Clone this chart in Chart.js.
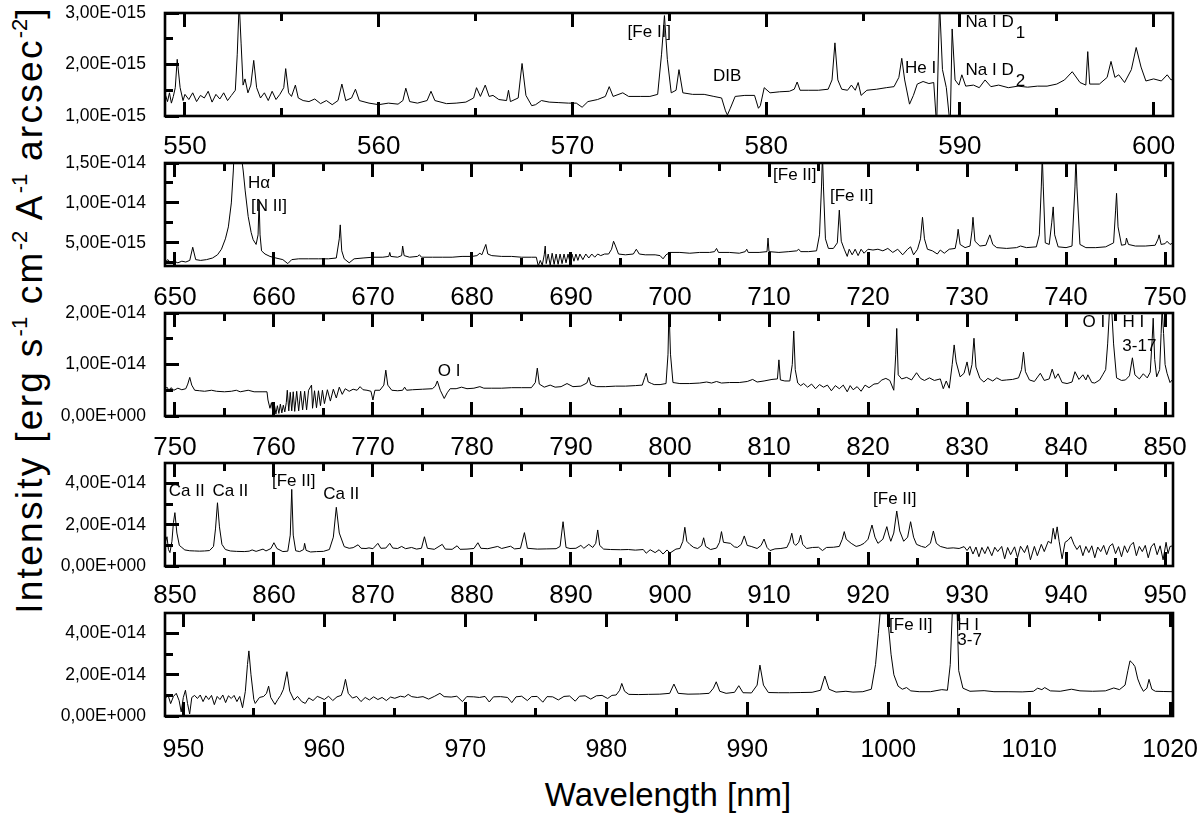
<!DOCTYPE html>
<html>
<head>
<meta charset="utf-8">
<script src="https://cdn.jsdelivr.net/npm/chart.js@4.4.1/dist/chart.umd.min.js"></script>
<style>
  body { margin: 0; background: #fff; width: 1200px; height: 814px; position: relative; overflow: hidden;
         font-family: "Liberation Sans", Arial, sans-serif; color: #000; }
  .panel { position: absolute; left: 0; width: 1200px; height: 160px; }
  #ytitle { position: absolute; left: 30px; top: 310px; white-space: nowrap; font-size: 37px; letter-spacing: 2.3px;
            transform: translate(-50%, -50%) rotate(-90deg); }
  #ytitle sup { font-size: 22px; vertical-align: 15px; line-height: 0; letter-spacing: 0; }
  #xtitle { position: absolute; left: 668px; top: 795px; white-space: nowrap; font-size: 33px;
            transform: translate(-50%, -50%); }
</style>
</head>
<body>
<div id="ytitle">Intensity [erg s<sup>-1</sup> cm<sup>-2</sup> A<sup>-1</sup> arcsec<sup>-2</sup>]</div>
<div id="xtitle">Wavelength [nm]</div>
<script>
// Flux values are in units of 1E-015 erg s-1 cm-2 A-1 arcsec-2, wavelengths in nm

// ---- panel 1: 549 - 601 nm ----
const p1Wave = [
  549.0, 549.1, 549.2, 549.3, 549.4, 549.5, 549.6, 549.75, 549.9, 550.0,
  550.2, 550.4, 550.6, 550.8, 551.0, 551.2, 551.4, 551.6, 551.8, 552.0,
  552.2, 552.4, 552.6, 552.7, 552.8, 552.9, 553.0, 553.1, 553.25, 553.4,
  553.55, 553.7, 553.9, 554.1, 554.3, 554.5, 554.7, 554.9, 555.1, 555.2,
  555.35, 555.5, 555.7, 555.85, 556.1, 556.4, 556.7, 557.0, 557.3, 557.6,
  557.9, 558.1, 558.3, 558.6, 558.8, 559.0, 559.5, 560.0, 560.5, 561.0,
  561.25, 561.4, 561.6, 562.0, 562.5, 562.7, 562.9, 563.5, 564.0, 564.5,
  564.9, 565.05, 565.25, 565.5, 565.7, 565.9, 566.2, 566.6, 566.7, 566.8,
  567.2, 567.4, 567.6, 567.9, 568.1, 568.4, 568.8, 569.3, 569.8, 570.2,
  570.5, 570.8, 571.3, 571.7, 571.9, 572.1, 572.6, 572.9, 573.5, 574.0,
  574.4, 574.6, 574.75, 574.9, 575.1, 575.35, 575.5, 575.7, 576.2, 576.8,
  577.3, 577.7, 577.9, 578.0, 578.15, 578.4, 578.9, 579.4, 579.6, 579.7,
  579.9, 580.2, 580.7, 581.2, 581.45, 581.6, 581.75, 582.2, 582.7, 583.2,
  583.4, 583.55, 583.7, 583.9, 584.2, 584.4, 584.6, 584.75, 584.9, 585.2,
  585.7, 586.2, 586.6, 586.85, 587.0, 587.15, 587.4, 587.6, 587.8, 588.1,
  588.4, 588.65, 588.8, 588.95, 589.1, 589.3, 589.5, 589.6, 589.75, 589.95,
  590.1, 590.3, 590.7, 591.0, 591.3, 591.6, 592.0, 592.5, 593.0, 593.5,
  594.0, 594.5, 595.0, 595.4, 595.8, 596.2, 596.5, 596.6, 596.7, 597.2,
  597.6, 597.8, 598.0, 598.2, 598.5, 598.85, 599.1, 599.35, 599.6, 600.0,
  600.4, 600.7, 600.9, 601.0
];
const p1Flux = [
  1.40, 1.28, 1.45, 1.25, 1.38, 1.55, 2.10, 1.55, 1.30, 1.42,
  1.32, 1.45, 1.28, 1.40, 1.35, 1.48, 1.27, 1.42, 1.33, 1.45,
  1.30, 1.40, 1.50, 2.20, 3.20, 2.40, 1.60, 1.72, 1.45, 1.60,
  2.08, 1.55, 1.35, 1.45, 1.30, 1.48, 1.32, 1.42, 1.55, 1.92,
  1.45, 1.38, 1.60, 1.35, 1.30, 1.28, 1.33, 1.24, 1.30, 1.22,
  1.30, 1.62, 1.30, 1.35, 1.52, 1.30, 1.25, 1.22, 1.25, 1.23,
  1.30, 1.54, 1.28, 1.25, 1.30, 1.48, 1.30, 1.24, 1.25, 1.27,
  1.35, 1.55, 1.38, 1.60, 1.38, 1.40, 1.32, 1.30, 1.50, 1.28,
  1.35, 2.02, 1.40, 1.20, 1.22, 1.30, 1.27, 1.26, 1.25, 1.25,
  1.17, 1.28, 1.32, 1.38, 1.57, 1.38, 1.45, 1.38, 1.38, 1.38,
  1.42, 2.20, 2.95, 2.10, 1.45, 1.50, 1.90, 1.45, 1.42, 1.42,
  1.38, 1.35, 1.10, 1.02, 1.15, 1.38, 1.40, 1.40, 1.15, 1.20,
  1.55, 1.45, 1.47, 1.48, 1.52, 1.66, 1.50, 1.50, 1.50, 1.52,
  1.70, 2.42, 1.70, 1.52, 1.50, 1.60, 1.50, 1.65, 1.40, 1.50,
  1.52, 1.55, 1.57, 1.75, 2.12, 1.70, 1.23, 1.40, 1.62, 1.67,
  1.63, 1.65, 0.80, 3.20, 1.90, 1.55, 0.80, 2.69, 1.70, 1.60,
  1.80, 1.58, 1.60, 1.55, 1.70, 1.57, 1.60, 1.55, 1.58, 1.56,
  1.58, 1.58, 1.62, 1.70, 1.86, 1.65, 1.60, 2.25, 1.62, 1.62,
  1.75, 2.06, 1.75, 1.80, 1.65, 1.90, 2.33, 1.95, 1.68, 1.72,
  1.68, 1.80, 1.70, 1.72
];
const p1XTicks = [550, 560, 570, 580, 590, 600];
const p1YTicks = [1, 2, 3];
const p1YMinor = [1.5, 2.5];
const p1Labels = [
  { text: '[Fe II]', x: 573.97, y: 2.63 },
  { text: 'DIB', x: 577.99, y: 1.78 },
  { text: 'He I', x: 587.97, y: 1.93 },
  { text: 'Na I D', sub: '1', x: 590.29, y: 2.82, align: 'left' },
  { text: 'Na I D', sub: '2', x: 590.29, y: 1.89, align: 'left' }
];

// ---- panel 2: 649 - 751 nm ----
const p2Wave = [
  649.0, 649.3, 649.6, 649.9, 650.3, 650.7, 651.1, 651.5, 651.8, 652.1,
  652.6, 653.2, 653.8, 654.3, 654.7, 655.1, 655.4, 655.7, 655.9, 656.1,
  656.3, 656.5, 656.7, 656.9, 657.1, 657.4, 657.7, 657.9, 658.2, 658.4,
  658.5, 658.6, 658.75, 659.1, 659.6, 660.2, 660.9, 661.4, 661.8, 662.5,
  663.5, 664.5, 665.5, 666.3, 666.6, 666.7, 666.85, 667.1, 667.6, 668.1,
  669.0, 670.0, 671.0, 671.6, 671.7, 671.8, 672.5, 672.9, 673.0, 673.15,
  673.7, 674.5, 674.7, 674.9, 676.0, 677.0, 678.0, 679.0, 680.0, 680.5,
  680.8, 681.0, 681.4, 681.6, 682.0, 683.0, 684.0, 685.0, 686.0, 686.5,
  686.7, 686.9, 687.1, 687.3, 687.4, 687.5, 687.7, 687.9, 688.1, 688.3,
  688.5, 688.7, 688.9, 689.1, 689.3, 689.5, 689.7, 689.9, 690.1, 690.3,
  690.5, 690.7, 690.9, 691.2, 691.5, 691.8, 692.1, 692.4, 692.7, 693.0,
  693.4, 693.8, 694.1, 694.3, 694.5, 694.8, 695.5, 696.3, 696.6, 696.9,
  697.5, 698.5, 699.0, 699.3, 699.6, 700.0, 701.0, 702.0, 703.0, 704.0,
  704.5, 704.7, 704.9, 706.0, 707.0, 707.6, 707.75, 707.9, 709.0, 709.8,
  709.9, 710.0, 711.0, 712.0, 712.8, 713.0, 713.2, 714.0, 714.8, 715.1,
  715.3, 715.4, 715.5, 715.7, 716.0, 716.5, 716.9, 717.1, 717.3, 717.6,
  717.9, 718.1, 718.4, 718.7, 719.0, 719.3, 719.6, 720.0, 720.5, 721.0,
  721.5, 722.0, 722.5, 723.0, 723.5, 724.0, 724.3, 724.6, 725.0, 725.3,
  725.5, 725.7, 726.0, 726.5, 727.0, 727.3, 727.7, 728.2, 728.8, 729.0,
  729.1, 729.3, 729.8, 730.3, 730.5, 730.6, 730.8, 731.3, 731.9, 732.3,
  732.6, 733.0, 734.0, 735.0, 735.4, 736.0, 737.0, 737.3, 737.5, 737.6,
  737.7, 737.9, 738.3, 738.55, 738.7, 738.85, 739.2, 740.0, 740.6, 740.9,
  741.0, 741.1, 741.4, 742.0, 743.0, 744.0, 744.8, 745.0, 745.1, 745.25,
  745.6, 746.0, 746.1, 746.3, 747.0, 748.0, 749.0, 749.3, 749.4, 749.6,
  750.0, 750.2, 750.5, 750.8
];
const p2Flux = [
  2.6, 2.9, 2.4, 2.7, 2.5, 2.7, 2.6, 2.8, 4.45, 2.9,
  2.8, 2.9, 3.1, 3.5, 4.2, 5.5, 7.0, 10.0, 14.0, 20.0,
  25.0, 20.0, 16.0, 14.0, 11.5, 8.3, 6.3, 5.4, 4.8, 6.0,
  10.2, 6.0, 4.0, 3.6, 3.3, 3.1, 2.9, 2.4, 2.9, 3.0,
  3.0, 3.0, 3.0, 3.1, 5.5, 7.25, 4.0, 3.0, 2.5, 3.0,
  3.1, 3.2, 3.2, 3.3, 3.8, 3.3, 3.2, 3.4, 4.6, 3.4,
  3.2, 3.3, 3.5, 3.2, 3.2, 3.2, 3.2, 3.3, 3.3, 3.4,
  3.7, 3.5, 4.8, 3.6, 3.4, 3.3, 3.3, 3.2, 3.2, 3.2,
  2.1, 2.8, 2.2, 3.5, 4.6, 2.4, 3.6, 2.2, 3.7, 2.3,
  3.6, 2.3, 3.6, 2.4, 3.6, 2.5, 3.6, 2.6, 3.6, 2.7,
  3.6, 2.8, 3.6, 2.9, 3.6, 3.1, 3.6, 3.2, 3.6, 3.4,
  3.6, 3.6, 4.2, 5.2, 4.6, 3.6, 3.5, 3.6, 4.2, 3.6,
  3.5, 3.5, 3.4, 3.0, 3.5, 3.8, 3.8, 3.7, 3.8, 3.8,
  3.9, 4.3, 3.8, 3.8, 3.7, 3.9, 4.2, 3.8, 3.8, 3.9,
  5.6, 3.9, 3.8, 3.9, 4.0, 4.2, 3.9, 3.9, 4.0, 6.0,
  12.0, 16.0, 12.0, 5.5, 4.3, 4.3, 5.0, 9.1, 5.2, 4.2,
  3.3, 4.2, 3.5, 4.2, 3.4, 4.2, 3.7, 4.2, 4.1, 4.2,
  4.0, 4.3, 3.8, 4.2, 3.5, 4.2, 4.5, 3.5, 4.2, 5.5,
  8.2, 5.5, 4.2, 4.0, 3.6, 4.1, 3.7, 4.2, 4.3, 5.6,
  6.7, 4.8, 4.4, 4.6, 6.5, 8.2, 5.2, 4.6, 4.7, 6.0,
  4.8, 4.4, 4.3, 4.4, 4.6, 4.4, 4.5, 6.0, 12.0, 16.0,
  12.0, 5.0, 4.8, 7.5, 9.5, 6.0, 4.5, 4.4, 4.6, 12.0,
  16.0, 12.0, 4.8, 4.4, 4.4, 4.5, 5.0, 9.0, 11.2, 7.0,
  4.7, 4.8, 5.6, 4.8, 4.6, 4.6, 4.7, 5.5, 6.0, 4.8,
  4.9, 5.2, 4.8, 5.0
];
const p2XTicks = [650, 660, 670, 680, 690, 700, 710, 720, 730, 740, 750];
const p2YTicks = [5, 10, 15];
const p2YMinor = [2.5, 7.5, 12.5];
const p2Labels = [
  { text: 'H\u03b1', x: 658.5, y: 12.5 },
  { text: '[N II]', x: 659.5, y: 9.6 },
  { text: '[Fe II]', x: 712.6, y: 13.5 },
  { text: '[Fe II]', x: 718.35, y: 10.8 }
];

// ---- panel 3: 749 - 851 nm ----
const p3Wave = [
  749.0, 749.2, 749.4, 749.6, 749.9, 750.3, 750.7, 751.1, 751.3, 751.5,
  751.7, 752.0, 752.5, 753.0, 753.7, 754.2, 755.0, 755.7, 756.2, 756.6,
  757.4, 758.0, 758.8, 759.3, 759.4, 759.6, 759.75, 759.9, 760.05, 760.2,
  760.35, 760.5, 760.65, 760.8, 760.95, 761.1, 761.25, 761.35, 761.5, 761.65,
  761.8, 761.95, 762.1, 762.3, 762.5, 762.7, 762.9, 763.1, 763.3, 763.5,
  763.8, 763.9, 764.1, 764.3, 764.5, 764.7, 764.9, 765.1, 765.4, 765.7,
  766.0, 766.3, 766.6, 766.9, 767.2, 767.6, 768.0, 768.4, 768.7, 769.0,
  769.4, 769.8, 770.0, 770.2, 770.7, 771.1, 771.3, 771.5, 771.9, 772.5,
  773.0, 773.2, 773.4, 774.0, 775.0, 776.0, 776.3, 776.5, 776.8, 777.2,
  777.5, 777.8, 778.4, 778.95, 779.5, 780.2, 780.8, 781.2, 782.0, 783.0,
  784.0, 785.0, 786.0, 786.4, 786.6, 786.8, 787.3, 787.9, 788.4, 789.0,
  789.6, 790.2, 791.0, 791.6, 791.8, 792.0, 792.6, 793.5, 794.5, 795.5,
  796.5, 797.2, 797.45, 797.6, 797.8, 798.15, 798.4, 799.0, 799.6, 799.8,
  799.9, 800.05, 800.3, 801.0, 802.0, 803.0, 803.7, 804.2, 804.7, 805.2,
  806.0, 807.0, 807.8, 808.35, 808.8, 809.5, 810.3, 810.85, 811.0, 811.15,
  811.6, 812.1, 812.35, 812.5, 812.65, 812.9, 813.2, 813.5, 813.9, 814.3,
  814.7, 815.1, 815.5, 815.9, 816.3, 816.7, 817.1, 817.5, 817.9, 818.2,
  818.5, 818.9, 819.3, 819.7, 820.1, 820.6, 821.0, 821.4, 821.8, 822.2,
  822.6, 822.8, 822.9, 823.05, 823.4, 823.9, 824.4, 824.9, 825.3, 825.7,
  826.2, 826.7, 827.3, 827.6, 827.9, 828.2, 828.5, 828.7, 828.9, 829.3,
  829.7, 830.0, 830.25, 830.5, 830.7, 830.9, 831.3, 831.7, 832.1, 832.6,
  833.0, 833.5, 834.0, 834.6, 835.2, 835.5, 835.7, 835.9, 836.3, 836.8,
  837.4, 837.8, 838.3, 838.6, 838.9, 839.2, 839.6, 840.1, 840.6, 840.9,
  841.3, 841.7, 842.0, 842.2, 842.6, 842.9, 843.4, 843.7, 844.0, 844.2,
  844.4, 844.6, 844.8, 845.1, 845.6, 846.0, 846.4, 846.7, 846.95, 847.4,
  847.8, 848.2, 848.5, 848.7, 848.8, 848.95, 849.15, 849.45, 849.6, 849.7,
  849.85, 850.0, 850.2, 850.5, 850.8
];
const p3Flux = [
  5.2, 5.6, 5.0, 5.5, 5.0, 5.4, 5.1, 5.3, 6.2, 7.5,
  6.0, 5.0, 4.9, 4.8, 5.0, 4.8, 4.7, 4.8, 5.0, 4.7,
  5.0, 4.7, 4.7, 4.7, 3.1, 1.5, 2.6, 0.6, 2.2, 0.4,
  2.0, 0.5, 2.3, 0.6, 2.1, 0.8, 2.6, 5.0, 1.0, 4.6,
  1.0, 4.7, 0.9, 4.8, 1.0, 4.8, 1.2, 4.8, 1.2, 5.0,
  6.0, 1.5, 4.9, 1.6, 4.9, 2.0, 5.0, 2.4, 5.1, 2.9,
  5.2, 3.5, 5.6, 4.2, 5.3, 4.8, 5.2, 5.0, 5.7, 5.1,
  5.0, 4.8, 3.1, 5.0, 5.0, 6.0, 8.9, 6.0, 5.0, 4.9,
  5.0, 5.6, 5.0, 5.1, 5.2, 5.3, 5.8, 6.8, 5.0, 3.4,
  4.5, 5.3, 5.3, 5.6, 5.3, 5.4, 5.7, 5.4, 5.4, 5.4,
  5.5, 5.5, 5.5, 6.5, 9.3, 6.2, 5.6, 6.0, 5.6, 5.7,
  6.3, 5.7, 5.8, 6.4, 7.5, 6.1, 5.7, 5.7, 5.8, 5.8,
  5.9, 6.0, 7.5, 8.3, 6.6, 6.3, 6.1, 6.1, 6.3, 12.0,
  21.0, 12.0, 6.5, 6.3, 6.3, 6.4, 6.6, 6.4, 6.7, 6.4,
  6.5, 6.5, 6.7, 7.1, 6.6, 6.8, 7.1, 7.2, 10.9, 7.0,
  6.8, 6.8, 10.0, 16.5, 9.0, 6.4, 5.9, 6.3, 5.6, 6.2,
  5.3, 6.1, 5.6, 6.0, 4.9, 5.9, 5.3, 6.0, 4.7, 5.9,
  5.1, 5.7, 4.8, 6.0, 5.5, 6.2, 6.3, 7.0, 7.3, 6.9,
  5.0, 12.0, 17.0, 8.0, 7.2, 7.5, 7.0, 8.4, 7.3, 6.9,
  7.4, 6.9, 7.2, 5.3, 6.8, 5.4, 10.0, 13.8, 10.5, 7.6,
  8.3, 10.5, 7.9, 10.0, 15.1, 9.5, 7.3, 6.6, 7.3, 6.8,
  7.4, 6.9, 7.0, 7.1, 7.4, 9.0, 12.4, 8.6, 7.0, 6.7,
  8.3, 6.9, 7.2, 9.1, 7.3, 8.2, 6.5, 6.3, 6.6, 8.6,
  7.1, 8.0, 7.0, 8.0, 6.5, 6.4, 7.0, 8.0, 9.0, 14.0,
  21.0, 21.0, 14.0, 7.4, 6.9, 7.0, 7.8, 11.3, 8.0, 7.2,
  8.2, 7.4, 8.5, 15.0, 19.0, 11.0, 7.6, 9.0, 16.0, 21.0,
  16.0, 10.0, 8.3, 6.5, 7.2
];
const p3XTicks = [750, 760, 770, 780, 790, 800, 810, 820, 830, 840, 850];
const p3YTicks = [0, 10, 20];
const p3YMinor = [5, 15];
const p3Labels = [
  { text: 'O I', x: 777.7, y: 8.6 },
  { text: 'O I', x: 842.8, y: 18.1 },
  { text: 'H I', x: 846.8, y: 18.1 },
  { text: '3-17', x: 847.4, y: 13.5 }
];

// ---- panel 4: 849 - 951 nm ----
const p4Wave = [
  849.0, 849.2, 849.35, 849.5, 849.7, 849.85, 850.0, 850.2, 850.45, 850.7,
  851.0, 851.5, 852.0, 852.5, 853.0, 853.5, 853.9, 854.1, 854.3, 854.5,
  854.75, 855.1, 855.6, 856.2, 857.0, 857.5, 857.8, 858.2, 858.9, 859.2,
  859.7, 860.0, 860.3, 860.9, 861.4, 861.65, 861.8, 861.95, 862.2, 862.6,
  863.0, 863.1, 863.25, 863.7, 864.3, 865.0, 865.6, 866.0, 866.3, 866.6,
  867.1, 867.6, 868.0, 868.5, 868.8, 869.3, 869.6, 870.0, 870.5, 870.8,
  871.3, 871.7, 872.0, 872.5, 872.9, 873.3, 873.9, 874.4, 874.9, 875.2,
  875.5, 876.2, 877.0, 877.3, 878.0, 878.5, 878.8, 879.5, 880.2, 880.6,
  880.9, 881.6, 882.6, 883.0, 883.9, 884.3, 884.9, 885.3, 885.6, 886.6,
  887.5, 888.5, 888.9, 889.2, 889.5, 889.9, 890.5, 891.0, 891.3, 891.8,
  892.2, 892.5, 892.7, 892.9, 893.3, 894.0, 895.0, 895.8, 896.5, 897.3,
  897.6, 898.0, 898.5, 898.9, 899.3, 899.7, 900.0, 900.6, 901.0, 901.3,
  901.5, 901.7, 902.0, 902.4, 902.8, 903.2, 903.4, 903.6, 904.1, 904.7,
  905.0, 905.2, 905.4, 906.1, 906.5, 906.8, 907.2, 907.5, 907.8, 908.2,
  908.8, 909.2, 909.5, 909.8, 910.1, 910.6, 911.2, 911.8, 912.1, 912.3,
  912.5, 912.7, 913.0, 913.2, 913.4, 913.8, 914.4, 915.0, 915.4, 915.8,
  916.5, 917.1, 917.4, 917.6, 917.8, 918.3, 918.8, 919.2, 919.6, 920.0,
  920.4, 920.7, 921.0, 921.5, 921.9, 922.1, 922.3, 922.6, 922.9, 923.2,
  923.6, 924.0, 924.3, 924.6, 924.9, 925.4, 925.8, 926.3, 926.6, 926.9,
  927.3, 928.0, 928.6, 929.2, 929.7, 930.0, 930.3, 930.6, 930.9, 931.2,
  931.5, 931.8, 932.1, 932.5, 932.8, 933.1, 933.5, 933.8, 934.1, 934.4,
  934.8, 935.1, 935.4, 935.8, 936.1, 936.4, 936.8, 937.1, 937.5, 937.8,
  938.2, 938.5, 938.7, 938.9, 939.1, 939.3, 939.6, 939.9, 940.2, 940.5,
  940.8, 941.1, 941.4, 941.7, 942.0, 942.3, 942.6, 942.9, 943.2, 943.5,
  943.8, 944.1, 944.4, 944.7, 945.0, 945.3, 945.6, 945.9, 946.2, 946.5,
  946.8, 947.1, 947.4, 947.7, 948.0, 948.3, 948.6, 948.9, 949.2, 949.5,
  949.8, 950.1, 950.3, 950.5, 950.8
];
const p4Flux = [
  11.0, 14.2, 8.0, 6.5, 12.0, 21.0, 25.9, 16.0, 10.0, 9.0,
  7.8, 7.4, 7.3, 7.2, 7.3, 7.5, 9.5, 18.0, 30.7, 19.0,
  10.5, 8.0, 7.3, 7.1, 7.0, 7.2, 7.8, 7.1, 8.2, 7.3,
  8.5, 11.3, 8.5, 7.0, 7.2, 15.0, 37.2, 15.0, 7.4, 7.0,
  8.0, 11.0, 7.6, 6.8, 7.0, 7.1, 8.0, 14.0, 28.5, 16.0,
  9.4, 8.6, 8.9, 10.3, 8.6, 8.5, 8.8, 8.4, 11.0, 8.6,
  8.7, 11.0, 8.7, 8.5, 9.5, 8.4, 9.0, 8.2, 8.6, 14.2,
  8.6, 8.1, 10.5, 8.2, 8.1, 9.8, 8.1, 8.2, 8.5, 11.3,
  8.6, 8.4, 9.5, 8.5, 9.6, 8.3, 8.6, 16.2, 8.6, 8.2,
  8.3, 8.4, 9.5, 21.5, 9.0, 8.5, 8.6, 10.0, 8.6, 10.5,
  9.0, 11.0, 17.5, 10.0, 8.2, 8.0, 7.9, 8.0, 7.7, 8.0,
  6.2, 7.9, 6.5, 7.9, 5.8, 7.8, 6.3, 8.2, 8.5, 12.0,
  18.8, 12.0, 10.5, 9.0, 8.5, 10.0, 13.7, 9.5, 8.0, 8.7,
  11.5, 16.7, 11.5, 11.0, 9.3, 9.0, 10.5, 14.6, 10.0, 9.5,
  8.5, 10.0, 13.1, 9.0, 7.5, 8.3, 8.5, 9.0, 12.0, 15.9,
  11.0, 10.0, 11.5, 15.0, 10.5, 8.5, 9.0, 9.1, 7.5, 9.0,
  9.1, 9.5, 13.0, 16.7, 13.0, 11.0, 9.5, 10.0, 11.0, 13.0,
  19.9, 14.0, 11.0, 13.0, 19.1, 15.0, 12.0, 16.0, 26.7, 17.0,
  12.0, 14.0, 21.5, 14.0, 10.5, 9.5, 9.0, 11.0, 17.0, 11.0,
  9.5, 8.6, 8.8, 8.5, 9.4, 7.5, 9.5, 5.8, 9.2, 4.5,
  9.0, 6.0, 9.4, 5.0, 9.1, 7.0, 9.5, 3.5, 9.0, 5.5,
  9.3, 4.0, 9.6, 6.5, 10.0, 3.0, 9.5, 5.0, 10.5, 7.0,
  12.0, 11.0, 18.3, 13.0, 19.0, 12.0, 3.5, 11.5, 12.5, 14.2,
  10.5, 8.0, 10.0, 5.0, 9.5, 6.5, 9.8, 4.0, 9.2, 7.0,
  10.0, 5.5, 9.6, 10.8, 6.0, 9.4, 4.5, 9.8, 6.5, 10.0,
  11.5, 5.0, 9.5, 7.0, 10.0, 4.0, 9.3, 11.0, 5.5, 9.8,
  3.0, 11.5, 6.0, 9.5, 9.8
];
const p4XTicks = [850, 860, 870, 880, 890, 900, 910, 920, 930, 940, 950];
const p4YTicks = [0, 20, 40];
const p4YMinor = [10, 30];
const p4Labels = [
  { text: 'Ca II', x: 851.2, y: 36.1 },
  { text: 'Ca II', x: 855.6, y: 36.1 },
  { text: '[Fe II]', x: 862.0, y: 40.9 },
  { text: 'Ca II', x: 866.8, y: 35.0 },
  { text: '[Fe II]', x: 922.7, y: 32.4 }
];

// ---- panel 5: 949 - 1020 nm ----
const p5Wave = [
  948.7, 948.9, 949.1, 949.3, 949.5, 949.7, 949.85, 950.0, 950.15, 950.3,
  950.45, 950.6, 950.8, 951.0, 951.2, 951.4, 951.6, 951.8, 952.0, 952.2,
  952.4, 952.6, 952.8, 953.0, 953.2, 953.4, 953.6, 953.8, 954.0, 954.2,
  954.4, 954.55, 954.65, 954.8, 955.0, 955.1, 955.4, 955.7, 955.9, 956.05,
  956.2, 956.5, 956.7, 956.9, 957.1, 957.35, 957.55, 957.85, 958.1, 958.4,
  958.65, 958.9, 959.2, 959.5, 959.7, 960.0, 960.3, 960.6, 960.9, 961.2,
  961.35, 961.5, 961.7, 962.0, 962.3, 962.6, 962.9, 963.2, 963.5, 963.8,
  964.1, 964.4, 964.7, 965.0, 965.4, 965.7, 965.95, 966.2, 966.6, 967.0,
  967.4, 967.8, 968.2, 968.5, 969.0, 969.4, 969.8, 970.1, 970.6, 971.0,
  971.4, 971.7, 972.0, 972.5, 973.0, 973.3, 973.6, 974.0, 974.4, 974.7,
  975.1, 975.5, 975.8, 976.2, 976.6, 977.0, 977.4, 977.8, 978.1, 978.5,
  978.9, 979.3, 979.7, 980.1, 980.4, 980.7, 980.95, 981.1, 981.3, 981.6,
  982.3, 983.0, 983.8, 984.5, 984.8, 985.1, 985.8, 986.6, 987.3, 987.6,
  987.8, 988.05, 988.5, 989.1, 989.4, 989.7, 990.3, 990.7, 990.9, 991.15,
  991.5, 992.2, 993.0, 993.8, 994.6, 995.2, 995.5, 995.8, 996.3, 997.0,
  997.5, 998.2, 998.8, 999.1, 999.3, 999.55, 999.8, 1000.0, 1000.2, 1000.4,
  1000.7, 1001.0, 1001.3, 1001.6, 1002.2, 1003.0, 1003.8, 1004.2, 1004.4, 1004.6,
  1004.85, 1005.0, 1005.3, 1005.8, 1006.8, 1007.5, 1008.5, 1009.5, 1010.3, 1010.6,
  1010.9, 1011.1, 1011.5, 1012.2, 1013.0, 1013.6, 1014.5, 1015.4, 1016.0, 1016.4,
  1016.8, 1017.0, 1017.15, 1017.35, 1017.5, 1017.7, 1017.9, 1018.1, 1018.35, 1018.5,
  1018.7, 1018.95, 1019.5, 1020.2
];
const p5Flux = [
  8.0, 10.5, 6.0, 9.5, 11.0, 7.5, 2.0, 9.0, 12.5, 6.0,
  1.0, 9.0, 10.0, 8.5, 10.2, 7.0, 9.8, 8.0, 10.0, 5.5,
  9.5, 8.0, 10.2, 6.5, 9.8, 8.5, 10.0, 7.0, 9.5, 4.0,
  12.0, 25.0, 31.6, 20.0, 8.0, 6.1, 9.0, 9.5, 11.0, 14.5,
  9.0, 5.6, 8.0, 10.0, 13.0, 21.5, 12.0, 7.7, 9.5, 7.0,
  6.1, 8.8, 7.5, 9.5, 9.0, 8.0, 9.6, 7.5, 9.3, 10.0,
  13.0, 17.8, 11.0, 8.7, 9.5, 7.0, 9.0, 7.8, 9.3, 8.0,
  9.0, 7.5, 9.2, 8.6, 9.6, 9.2, 10.5, 9.4, 9.0, 9.4,
  8.2, 9.5, 11.0, 9.4, 9.2, 9.6, 7.0, 9.4, 9.3, 9.0,
  9.5, 6.8, 9.3, 9.4, 9.0, 6.5, 9.3, 9.6, 7.5, 9.4,
  9.5, 6.7, 9.4, 9.3, 7.8, 9.5, 9.7, 7.2, 9.6, 9.8,
  8.2, 9.8, 10.0, 8.5, 10.0, 10.2, 12.5, 15.8, 12.0, 10.5,
  10.4, 10.5, 10.6, 11.0, 15.5, 11.0, 10.6, 10.7, 11.0, 13.5,
  16.6, 12.0, 11.0, 11.5, 14.7, 11.3, 11.2, 15.0, 24.7, 15.0,
  11.4, 11.3, 11.3, 11.4, 11.5, 12.5, 19.4, 13.0, 11.6, 12.0,
  11.6, 11.8, 13.0, 25.0, 40.0, 60.0, 60.0, 45.0, 30.0, 20.0,
  14.5, 13.0, 13.8, 12.2, 11.8, 11.8, 12.8, 12.5, 25.0, 60.0,
  60.0, 22.0, 13.5, 12.0, 12.3, 11.8, 11.8, 11.7, 12.0, 13.5,
  12.8, 13.8, 12.2, 12.0, 13.0, 12.2, 12.0, 12.2, 13.6, 12.8,
  15.0, 22.0, 26.8, 25.5, 24.0, 18.0, 14.5, 12.0, 13.5, 17.8,
  13.0, 12.0, 11.9, 11.8
];
const p5XTicks = [950, 960, 970, 980, 990, 1000, 1010, 1020];
const p5YTicks = [0, 20, 40];
const p5YMinor = [10, 30];
const p5Labels = [
  { text: '[Fe II]', x: 1001.6, y: 44.1 },
  { text: 'H I', x: 1004.9, y: 44.1, align: 'left' },
  { text: '3-7', x: 1004.9, y: 36.8, align: 'left' }
];

Chart.defaults.font.family = '"Liberation Sans", Arial, sans-serif';
Chart.defaults.color = '#000';

// "1,50E-014" style labels
function sciLabel(v) {
  const s = (v * 1e-15).toExponential(2);
  const [m, e] = s.split('e');
  const sign = e[0] === '-' ? '-' : '+';
  return m.replace('.', ',') + 'E' + sign + e.replace(/[+-]/, '').padStart(3, '0');
}

const panels = [
  { wave: p1Wave, flux: p1Flux, xMin: 548.97, xMax: 601.0, xTicks: p1XTicks, yMin: 1, yMax: 3,
    yTicks: p1YTicks, yMinor: p1YMinor, labels: p1Labels, xPad: 29, xFont: 26 },
  { wave: p2Wave, flux: p2Flux, xMin: 649.0, xMax: 750.8, xTicks: p2XTicks, yMin: 2.1, yMax: 15,
    yTicks: p2YTicks, yMinor: p2YMinor, labels: p2Labels, xPad: 30, xFont: 26 },
  { wave: p3Wave, flux: p3Flux, xMin: 749.0, xMax: 850.8, xTicks: p3XTicks, yMin: 0, yMax: 20,
    yTicks: p3YTicks, yMinor: p3YMinor, labels: p3Labels, xPad: 30, xFont: 26 },
  { wave: p4Wave, flux: p4Flux, xMin: 849.0, xMax: 950.8, xTicks: p4XTicks, yMin: 0, yMax: 50,
    yTicks: p4YTicks, yMinor: p4YMinor, labels: p4Labels, xPad: 28, xFont: 26 },
  { wave: p5Wave, flux: p5Flux, xMin: 948.7, xMax: 1020.2, xTicks: p5XTicks, yMin: 0, yMax: 50,
    yTicks: p5YTicks, yMinor: p5YMinor, labels: p5Labels, xPad: 33, xFont: 25 }
];

// inward tick marks drawn by the scales themselves
function tickGrid(len) {
  return { display: true, drawOnChartArea: false, drawTicks: true, tickLength: -len,
           tickWidth: 3, tickColor: '#000' };
}

panels.forEach((p, i) => {
  const div = document.createElement('div');
  div.className = 'panel';
  div.style.top = (150 * i) + 'px';
  div.innerHTML = '<canvas width="1200" height="160"></canvas>';
  document.body.appendChild(div);
  const canvas = div.querySelector('canvas');

  const xMinor = [p.xTicks[0] - 5].concat(p.xTicks.map(v => v + 5))
    .filter(v => v > p.xMin && v < p.xMax);

  // helper axes that only carry tick marks (no labels, no space)
  const markAxis = (axis, position, values, len, weight) => ({
    type: 'linear',
    axis,
    position,
    weight,
    min: axis === 'x' ? p.xMin : p.yMin,
    max: axis === 'x' ? p.xMax : p.yMax,
    grid: tickGrid(len),
    border: { display: false },
    ticks: { display: false },
    afterBuildTicks: s => { s.ticks = values.map(v => ({ value: v })); },
    afterFit: s => {
      if (axis === 'x') s.height = 0; else s.width = 0;
      s.paddingLeft = 0; s.paddingRight = 0; s.paddingTop = 0; s.paddingBottom = 0;
    }
  });

  // frame and line identifications
  const decor = {
    id: 'decor' + i,
    afterDraw(chart) {
      const ctx = chart.ctx;
      const a = chart.chartArea;
      const xs = chart.scales.x;
      const ys = chart.scales.y;
      ctx.save();
      ctx.strokeStyle = '#000';
      ctx.lineWidth = 2.6;
      ctx.strokeRect(a.left, a.top, a.right - a.left, a.bottom - a.top);

      ctx.fillStyle = '#000';
      ctx.textBaseline = 'middle';
      p.labels.forEach(it => {
        const px = xs.getPixelForValue(it.x);
        const py = ys.getPixelForValue(it.y);
        ctx.font = '17px "Liberation Sans", Arial, sans-serif';
        ctx.textAlign = it.align || 'center';
        ctx.fillText(it.text, px, py);
        if (it.sub) {
          const w = ctx.measureText(it.text).width;
          const sx = ctx.textAlign === 'left' ? px + w + 2 : px + w / 2 + 2;
          ctx.textAlign = 'left';
          ctx.fillText(it.sub, sx, py + 11);
        }
      });
      ctx.restore();
    }
  };

  new Chart(canvas, {
    type: 'line',
    data: {
      datasets: [{
        data: p.wave.map((w, k) => ({ x: w, y: p.flux[k] })),
        xAxisID: 'x',
        yAxisID: 'y',
        borderColor: '#000',
        borderWidth: 1,
        pointRadius: 0,
        tension: 0,
        fill: false
      }]
    },
    options: {
      responsive: false,
      animation: false,
      devicePixelRatio: 1,
      layout: { padding: { left: 0, right: 27, top: 13, bottom: 0 } },
      plugins: {
        legend: { display: false },
        tooltip: { enabled: false }
      },
      scales: {
        x: {
          type: 'linear',
          position: 'bottom',
          weight: 0,
          min: p.xMin,
          max: p.xMax,
          grid: tickGrid(14),
          border: { display: false },
          ticks: { font: { size: p.xFont }, color: '#000', padding: p.xPad, maxRotation: 0, autoSkip: false,
                   callback: v => String(v) },
          afterBuildTicks: s => { s.ticks = p.xTicks.map(v => ({ value: v })); },
          afterFit: s => { s.height = 44; s.paddingLeft = 0; s.paddingRight = 0; }
        },
        xMinorB: markAxis('x', 'bottom', xMinor, 8, -1),
        xTop: markAxis('x', 'top', p.xTicks, 14, 0),
        xMinorT: markAxis('x', 'top', xMinor, 8, -1),
        y: {
          type: 'linear',
          position: 'left',
          weight: 0,
          min: p.yMin,
          max: p.yMax,
          grid: tickGrid(14),
          border: { display: false },
          ticks: { font: { size: 17.5 }, color: '#000', padding: 33, autoSkip: false,
                   callback: v => sciLabel(v) },
          afterBuildTicks: s => { s.ticks = p.yTicks.map(v => ({ value: v })); },
          afterFit: s => { s.width = 165; s.paddingTop = 0; s.paddingBottom = 0; }
        },
        yMinor: markAxis('y', 'left', p.yMinor, 8, -1)
      }
    },
    plugins: [decor]
  });
});
</script>
</body>
</html>
